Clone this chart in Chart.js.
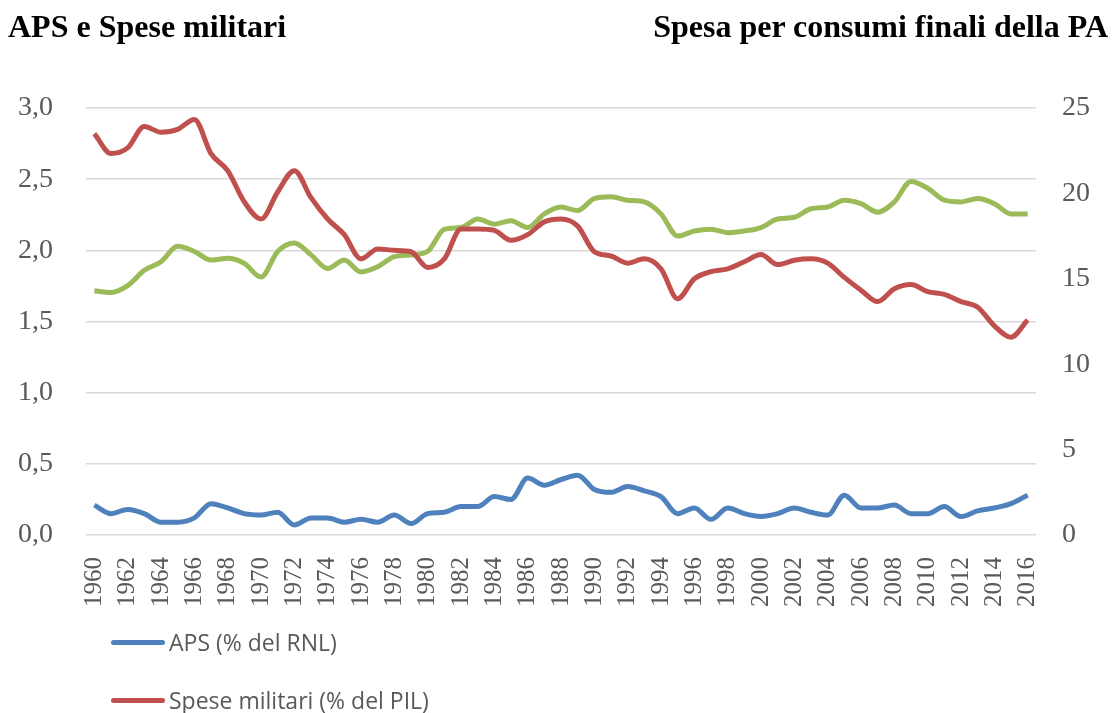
<!DOCTYPE html>
<html><head><meta charset="utf-8">
<script src="https://cdn.jsdelivr.net/npm/chart.js@4/dist/chart.umd.min.js"></script>
<style>
html,body{margin:0;padding:0;background:#fff;}
#wrap{position:relative;width:1113px;height:713px;overflow:hidden;}
canvas{position:absolute;left:0;top:0;}
.t{position:absolute;top:6px;font-family:"Liberation Serif","Times New Roman",serif;font-weight:bold;font-size:32px;line-height:40px;color:#000;white-space:nowrap;}
.lg{position:absolute;left:111px;font-family:"Open Sans","Liberation Sans",sans-serif;font-size:23px;line-height:30px;color:#595959;white-space:nowrap;display:flex;align-items:center;}
.lg span.s{display:inline-block;width:54px;height:5px;border-radius:3px;margin-right:4px;}
</style></head>
<body><div id="wrap">
<canvas id="c" width="1113" height="713"></canvas>
<div class="t" style="left:8px;">APS e Spese militari</div>
<div class="t" style="right:5px;">Spesa per consumi finali della PA</div>
<div class="lg" style="top:627px;"><span class="s" style="background:#4F81BD"></span>APS (% del RNL)</div>
<div class="lg" style="top:685px;"><span class="s" style="background:#C0504D"></span>Spese militari (% del PIL)</div>
</div>
<script>
const years = [];
for (let y = 1960; y <= 2016; y++) years.push(String(y));

const aps = [0.21,0.15,0.18,0.15,0.09,0.09,0.12,0.22,0.19,0.15,0.14,0.16,0.07,0.12,0.12,0.09,0.11,0.09,0.14,0.08,0.15,0.16,0.20,0.20,0.27,0.25,0.40,0.35,0.39,0.42,0.32,0.30,0.34,0.31,0.27,0.15,0.19,0.11,0.19,0.15,0.13,0.15,0.19,0.16,0.14,0.28,0.19,0.19,0.21,0.15,0.15,0.20,0.13,0.17,0.19,0.22,0.28];

const militari = [2.82,2.68,2.72,2.87,2.83,2.85,2.92,2.68,2.56,2.34,2.22,2.41,2.56,2.37,2.22,2.11,1.94,2.01,2.00,1.99,1.88,1.94,2.15,2.15,2.14,2.07,2.11,2.20,2.22,2.17,1.99,1.96,1.91,1.94,1.87,1.66,1.80,1.85,1.87,1.92,1.97,1.90,1.93,1.94,1.91,1.81,1.72,1.64,1.73,1.76,1.71,1.69,1.64,1.60,1.47,1.39,1.51];

const spesaPA = [14.3,14.2,14.6,15.5,16.0,16.9,16.6,16.1,16.2,15.9,15.1,16.6,17.1,16.4,15.6,16.1,15.4,15.7,16.3,16.4,16.6,17.9,18.0,18.5,18.2,18.4,18.0,18.8,19.2,19.0,19.7,19.8,19.6,19.5,18.8,17.5,17.8,17.9,17.7,17.8,18.0,18.5,18.6,19.1,19.2,19.6,19.4,18.9,19.5,20.7,20.3,19.6,19.5,19.7,19.4,18.8,18.8];

const leftTicks = [0,0.5,1,1.5,2,2.5,3];
const rightTicks = [0,5,10,15,20,25];

const tickFont = {family:"'Liberation Serif','Times New Roman',serif", size:28};
const ds = (label, data, color, axis) => ({
  label, data, borderColor:color, backgroundColor:color, yAxisID:axis,
  borderWidth:5, pointRadius:0, tension:0.4, cubicInterpolationMode:'monotone', fill:false
});

new Chart(document.getElementById('c'), {
  type:'line',
  data:{
    labels:years,
    datasets:[
      ds('APS (% del RNL)', aps, '#4F81BD', 'yL'),
      ds('Spese militari (% del PIL)', militari, '#C0504D', 'yL'),
      ds('Spesa per consumi finali della PA', spesaPA, '#9BBB59', 'yR')
    ]
  },
  options:{
    responsive:false, animation:false,
    layout:{padding:{top:108,bottom:0,left:0,right:0}},
    plugins:{legend:{display:false}, tooltip:{enabled:false}},
    scales:{
      x:{
        offset:true,
        grid:{display:false},
        border:{display:false},
        ticks:{autoSkip:false, maxRotation:90, minRotation:90, padding:14,
          color:'#595959', font:{family:"'Liberation Serif','Times New Roman',serif", size:25},
          callback:function(v,i){ return i%2===0 ? years[i] : ''; }},
        afterFit:function(s){ s.height = 178; }
      },
      yL:{
        position:'left', min:0, max:3,
        afterBuildTicks:function(s){ s.ticks = leftTicks.map(v=>({value:v})); },
        grid:{color:'#d9d9d9', lineWidth:1.5, drawTicks:false},
        border:{display:false},
        ticks:{color:'#595959', font:tickFont, padding:33,
          callback:function(v){ return v.toFixed(1).replace('.',','); }},
        afterFit:function(s){ s.width = 86; }
      },
      yR:{
        position:'right', min:0, max:25,
        afterBuildTicks:function(s){ s.ticks = rightTicks.map(v=>({value:v})); },
        grid:{display:false, drawTicks:false},
        border:{display:false},
        ticks:{color:'#595959', font:tickFont, padding:26},
        afterFit:function(s){ s.width = 77; }
      }
    }
  }
});
</script>
</body></html>
